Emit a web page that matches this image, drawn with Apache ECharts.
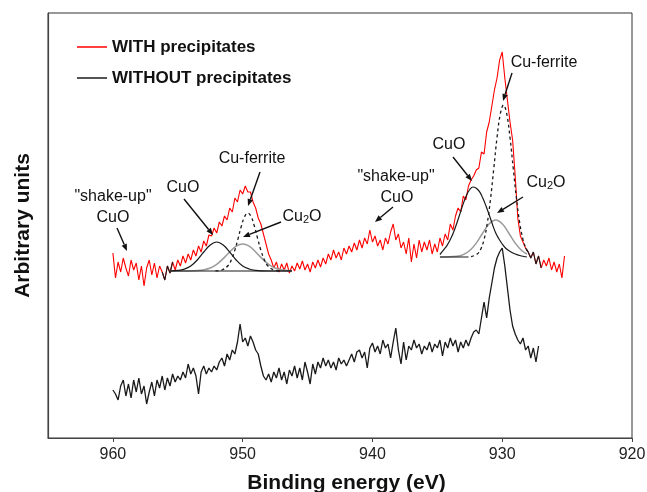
<!DOCTYPE html>
<html>
<head>
<meta charset="utf-8">
<script src="https://cdn.jsdelivr.net/npm/echarts@6/dist/echarts.min.js"></script>
<style>
html,body{margin:0;padding:0;background:#fff;}
#chart{width:647px;height:492px;}
</style>
</head>
<body>
<div id="chart"></div>
<script>
// ---------- DATA ----------
const xTicks = [920, 930, 940, 950, 960];
const E_START = 960.0;   // first energy of the measured spectra (eV)
const E_STEP = 0.2;      // energy step of the measured spectra (eV)

// WITH precipitates (red), 960.0 -> 925.2 eV
const withPrecipitates = [
  185,160,176,166,180,170,162,178,168,175,158,172,152,170,178,163,175,160,172,166,158,
  172,165,176,168,178,172,182,175,184,178,188,182,192,186,197,192,203,202,210,205,
  216,212,222,218,230,226,240,236,248,244,252,246,246,236,230,220,214,204,194,184,
  178,170,176,166,174,168,175,165,172,167,175,169,177,168,174,166,176,170,178,171,
  180,174,184,178,188,180,186,178,190,184,192,186,195,188,198,190,200,194,208,196,
  202,192,198,188,200,194,206,214,198,204,190,196,184,200,176,194,180,198,186,196,
  188,198,184,194,186,200,192,204,198,214,208,222,230,226,242,238,252,258,262,268,
  270,286,284,306,316,332,348,360,378,386,360,338,316,298,262,220,202,196,190,186,
  180,186,174,182,170,178,172,180,168,176,166,174,160,182
];

// WITHOUT precipitates (black), 960.0 -> 927.2 eV
const withoutPrecipitates = [
  48,44,38,52,58,42,54,40,58,46,60,44,52,34,46,56,42,58,50,62,48,60,52,64,56,62,
  58,66,60,74,64,70,62,44,66,72,64,70,66,72,68,76,80,72,84,78,88,84,96,114,96,
  100,92,102,96,88,84,72,62,58,
  64,56,66,60,70,58,66,54,68,62,72,60,70,58,76,66,54,74,64,76,70,80,72,78,70,
  76,68,80,74,78,72,
  78,84,76,86,88,80,86,70,90,95,86,92,84,98,90,94,80,96,110,88,74,96,78,92,88,
  98,90,94,84,92,88,96,86,94,90,98,82,96,90,100,92,98,86,96,90,98,92,100,106,108,
  104,120,136,120,140,155,170,180,186,190,172,150,128,112,104,98,94,100,88,92,
  80,90,76,92
];

// fitted components, Cu2p1/2 satellite region
const satBaseE = [955.6, 946.2];
const satBaseV = [167, 167];
const satCuOE = [955.6,955.0,954.5,954.0,953.5,953.0,952.5,952.0,951.5,951.0,950.5,950.0,949.5,949.0,948.5,948.0,947.0,946.2];
const satCuOV = [167,167.6,168.9,172,178,186,193,196,193,186,178,172,169,167.6,167.1,167,167,167];
const satCu2OE = [955.6,954.5,954.0,953.5,953.0,952.5,952.0,951.5,951.0,950.5,950.0,949.5,949.0,948.5,948.0,947.5,947.0,946.5,946.2];
const satCu2OV = [167,167,167.1,167.4,168.2,170,173.7,179.4,186,191.8,194,191.8,186,179.4,173.7,170,168.2,167.4,167.2];
const satFerE = [952.1,951.6,951.1,950.85,950.6,950.35,950.1,949.85,949.6,949.35,949.1,948.85,948.6,948.35,948.1,947.6,947.1];
const satFerV = [167.1,168,172.8,178.8,187.9,199.7,212,221.4,225,221.4,212,199.7,187.9,178.8,172.8,168,167.1];

// fitted components, Cu2p3/2 main region
const mainBaseE = [934.8, 932.6];
const mainBaseV = [181, 181];
const mainCuOE = [934.8,934.5,934.25,934.0,933.75,933.5,933.25,933.0,932.75,932.5,932.25,932.0,931.75,931.5,931.25,931.0,930.75,930.5,930.25,930.0,929.75,929.5,929.0,928.5,928.1];
const mainCuOV = [183.5,188.3,192.6,198.5,205.8,214.7,224.6,234.4,242.8,248.5,251,249.8,246.3,240,232,223,213.5,205,199,194,190,187.5,184,182,181];
const mainCu2OE = [934.8,933.5,933.0,932.5,932.0,931.5,931.0,930.5,930.0,929.5,929.0,928.5,928.1];
const mainCu2OV = [181,181.7,183.4,187.5,194.9,205,214.2,218,214.2,205,194.9,187.5,184];
const mainFerE = [932.4,931.9,931.65,931.4,931.15,930.9,930.65,930.4,930.15,929.9,929.65,929.4,929.15,928.9,928.65,928.4,928.15,927.9];
const mainFerV = [181.3,184.2,189,198.5,214.9,239.2,269.5,300.5,324,333,324,300.5,269.5,239.2,214.9,198.5,189,184.2];

// energy ranges where the measured WITH curve is drawn in black (fit range edges)
const blackEdgeRanges = [[955.4, 956.2], [927.0, 928.2]];

// ---------- BUILD ----------
const energyAt = i => +(E_START - E_STEP * i).toFixed(1);
const pairs = (E, V) => E.map((e, i) => [e, V[i]]);
const redData = withPrecipitates.map((v, i) => [energyAt(i), v]);
const blackData = withoutPrecipitates.map((v, i) => [energyAt(i), v]);
const edgeSeries = blackEdgeRanges.map((r, k) => ({
  name: 'edge' + k, type: 'line', showSymbol: false, silent: true,
  data: redData.filter(p => p[0] >= r[0] - 1e-6 && p[0] <= r[1] + 1e-6),
  lineStyle: { color: '#1a1a1a', width: 1.1 }, itemStyle: { color: '#1a1a1a' }, z: 5
}));

const FONT = 'Liberation Sans, Arial, sans-serif';
function fitLine(name, E, V, color, width, type, smooth) {
  return {
    name, type: 'line', showSymbol: false, silent: true, smooth: smooth ? 0.4 : false,
    data: pairs(E, V),
    lineStyle: { color, width, type: type || 'solid' }, itemStyle: { color }, z: 6
  };
}

function arrow(x1, y1, x2, y2) {
  const dx = x2 - x1, dy = y2 - y1, L = Math.hypot(dx, dy);
  const ux = dx / L, uy = dy / L, hl = 7, hw = 2.8;
  const bx = x2 - ux * hl, by = y2 - uy * hl;
  return [
    { type: 'line', silent: true, shape: { x1, y1, x2: bx, y2: by }, style: { stroke: '#111', lineWidth: 1.4 }, z: 20 },
    { type: 'polygon', silent: true, shape: { points: [[x2, y2], [bx - uy * hw, by + ux * hw], [bx + uy * hw, by - ux * hw]] }, style: { fill: '#111' }, z: 20 }
  ];
}
function label(text, x, y) {
  return { type: 'text', silent: true, x, y, z: 20,
    style: { text, font: '16px ' + FONT, fill: '#111', align: 'center', verticalAlign: 'middle' } };
}
function cu2o(x, y) {
  return { type: 'text', silent: true, x, y, z: 20,
    style: { text: '{n|Cu}{s|2}{n|O}', align: 'center', verticalAlign: 'middle', fill: '#111',
      rich: { n: { fontSize: 16, fontFamily: FONT, fill: '#111', color: '#111' },
              s: { fontSize: 11, fontFamily: FONT, fill: '#111', color: '#111', padding: [6, 0, 0, 0] } } } };
}

const graphics = [
  label('"shake-up"', 113, 197), label('CuO', 113, 218),
  label('CuO', 183, 188), label('Cu-ferrite', 252, 159), cu2o(302, 217),
  label('"shake-up"', 396, 177), label('CuO', 397, 198),
  label('CuO', 449, 145), label('Cu-ferrite', 544, 63), cu2o(546, 183),
  ...arrow(117, 228, 127, 251),
  ...arrow(184, 199, 213, 235),
  ...arrow(260, 172, 248, 206),
  ...arrow(281, 222, 243, 237),
  ...arrow(393, 207, 375, 222),
  ...arrow(453, 157, 472, 181),
  ...arrow(512, 73, 503, 101),
  ...arrow(523, 197, 497, 213)
];

const chart = echarts.init(document.getElementById('chart'), null, { renderer: 'canvas' });
chart.setOption({
  animation: false,
  backgroundColor: '#fff',
  textStyle: { fontFamily: FONT },
  grid: { left: 48, right: 15, top: 13, bottom: 54, show: true, borderColor: '#333', borderWidth: 1,
          containLabel: false, outerBoundsMode: 'none' },
  legend: {
    data: ['WITH precipitates', 'WITHOUT precipitates'],
    orient: 'vertical', left: 72, top: 32, itemWidth: 30, itemHeight: 1.5, itemGap: 11,
    icon: 'rect', selectedMode: false,
    textStyle: { fontSize: 17, fontWeight: 'bold', fontFamily: FONT, lineHeight: 20, color: '#111' },
    formatter: n => n
  },
  xAxis: {
    type: 'value', min: 920, max: 965, interval: 10, inverse: true,
    name: 'Binding energy (eV)', nameLocation: 'middle', nameGap: 35,
    nameTextStyle: { fontSize: 21, fontWeight: 'bold', color: '#111', fontFamily: FONT, padding: [0, 0, 0, 13] },
    axisLine: { lineStyle: { color: '#444', width: 1.2 } },
    axisTick: { inside: false, length: 4, lineStyle: { color: '#444' } },
    axisLabel: { fontSize: 16, color: '#222', margin: 9, showMaxLabel: false,
      formatter: v => (xTicks.indexOf(v) >= 0 ? String(v) : '') },
    splitLine: { show: false }
  },
  yAxis: {
    type: 'value', min: 0, max: 425,
    name: 'Arbitrary units', nameLocation: 'middle', nameGap: 14, nameRotate: 90,
    nameTextStyle: { fontSize: 21, fontWeight: 'bold', color: '#111', fontFamily: FONT },
    axisLine: { show: true, lineStyle: { color: '#444', width: 1.2 } },
    axisTick: { show: false }, axisLabel: { show: false }, splitLine: { show: false }
  },
  series: [
    { name: 'WITH precipitates', type: 'line', showSymbol: false, data: redData,
      lineStyle: { color: '#ff0000', width: 1.1 }, itemStyle: { color: '#ff0000' }, z: 4 },
    { name: 'WITHOUT precipitates', type: 'line', showSymbol: false, data: blackData,
      lineStyle: { color: '#1a1a1a', width: 1.3 }, itemStyle: { color: '#1a1a1a' }, z: 4 },
    ...edgeSeries,
    fitLine('satCu2O', satCu2OE, satCu2OV, '#9a9a9a', 1.5, 'solid', true),
    fitLine('satBase', satBaseE, satBaseV, '#1a1a1a', 1.2),
    fitLine('satCuO', satCuOE, satCuOV, '#1a1a1a', 1.2, 'solid', true),
    fitLine('satFer', satFerE, satFerV, '#1a1a1a', 1.3, [3, 3], true),
    fitLine('mainCu2O', mainCu2OE, mainCu2OV, '#9a9a9a', 1.5, 'solid', true),
    fitLine('mainBase', mainBaseE, mainBaseV, '#1a1a1a', 1.2),
    fitLine('mainCuO', mainCuOE, mainCuOV, '#1a1a1a', 1.2, 'solid', true),
    fitLine('mainFer', mainFerE, mainFerV, '#1a1a1a', 1.3, [3, 3], true)
  ],
  graphic: graphics
});
</script>
</body>
</html>
